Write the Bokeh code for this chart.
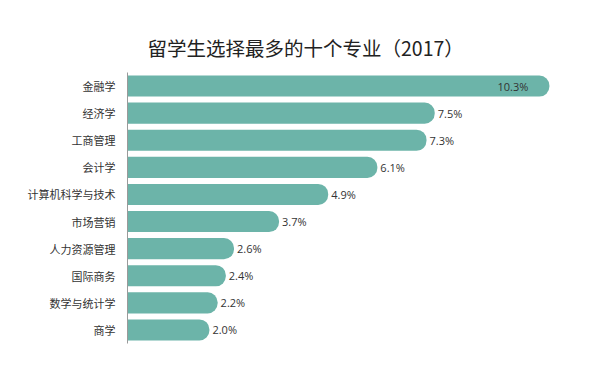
from bokeh.plotting import figure
from bokeh.models import ColumnDataSource, Title, Range1d
from bokeh.core.properties import value
from bokeh.embed import file_html
from bokeh.resources import INLINE

categories = ["金融学", "经济学", "工商管理", "会计学", "计算机科学与技术",
              "市场营销", "人力资源管理", "国际商务", "数学与统计学", "商学"]
shares = [10.3, 7.5, 7.3, 6.1, 4.9, 3.7, 2.6, 2.4, 2.2, 2.0]
labels = ["10.3%", "7.5%", "7.3%", "6.1%", "4.9%", "3.7%", "2.6%", "2.4%", "2.2%", "2.0%"]
title_text = "留学生选择最多的十个专业（2017）"

top = max(shares)
inside = [v == top for v in shares]

bar_src = ColumnDataSource(dict(cat=categories, val=shares))
out_src = ColumnDataSource(dict(
    cat=[c for c, i in zip(categories, inside) if not i],
    val=[v for v, i in zip(shares, inside) if not i],
    lab=[l for l, i in zip(labels, inside) if not i]))
in_src = ColumnDataSource(dict(
    cat=[c for c, i in zip(categories, inside) if i],
    val=[v for v, i in zip(shares, inside) if i],
    lab=[l for l, i in zip(labels, inside) if i]))

p = figure(width=596, height=351, output_backend="svg", toolbar_location=None,
           y_range=list(reversed(categories)), x_range=Range1d(0, 11.45),
           min_border_left=127, min_border_right=0, min_border_top=72,
           min_border_bottom=8, title=None)

t = Title(text=title_text, align="left", offset=20, text_font_size="19.5px",
          text_font="Noto Sans CJK SC", text_font_style="normal",
          text_color="#222222", standoff=22)
p.add_layout(t, "above")

p.hbar(y="cat", right="val", left=0, height=0.78, source=bar_src,
       fill_color="#6cb4a9", line_color=None, border_radius=(0, 10, 10, 0))

p.text(x="val", y="cat", text="lab", source=out_src, x_offset=3,
       text_baseline="middle", text_align="left", text_font_size="11px",
       text_font=value("Open Sans"), text_color="#333333")
p.text(x="val", y="cat", text="lab", source=in_src, x_offset=-21,
       text_baseline="middle", text_align="right", text_font_size="11px",
       text_font=value("Open Sans"), text_color="#333333")

p.xaxis.visible = False
p.xgrid.visible = False
p.ygrid.visible = False
p.outline_line_color = None
p.yaxis.major_tick_line_color = None
p.yaxis.minor_tick_line_color = None
p.yaxis.axis_line_color = "#9a9a9a"
p.yaxis.major_label_text_font = "Noto Sans CJK SC"
p.yaxis.major_label_text_font_size = "11px"
p.yaxis.major_label_text_color = "#333333"
p.yaxis.major_label_standoff = 6
p.background_fill_color = "white"
p.border_fill_color = "white"

open("out.html", "w").write(file_html(p, INLINE))
